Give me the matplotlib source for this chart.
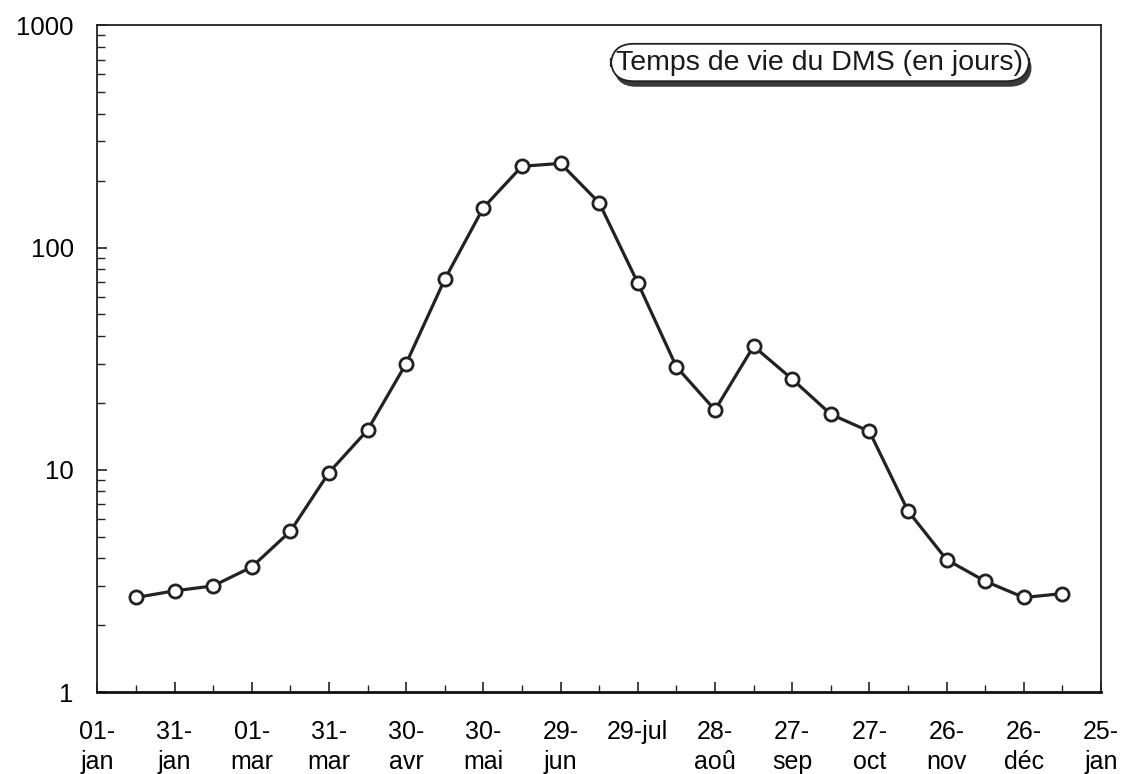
import matplotlib
matplotlib.use('Agg')
import matplotlib.pyplot as plt
import matplotlib.patheffects as pe
from matplotlib.ticker import LogLocator, NullFormatter, MultipleLocator

plt.rcParams['font.family'] = ['Liberation Sans', 'DejaVu Sans']

# Jours depuis le 1er janvier (année bissextile) et temps de vie du DMS
jours = [15, 30, 45, 60, 75, 90, 105, 120, 135, 150, 165, 180, 195,
         210, 225, 240, 255, 270, 285, 300, 315, 330, 345, 360, 375]
temps_vie = [2.67, 2.86, 3.01, 3.66, 5.3, 9.73, 15.1, 30.1, 72, 151, 232, 239, 159,
             69.4, 29.1, 18.6, 36, 25.6, 17.8, 14.9, 6.54, 3.95, 3.16, 2.67, 2.78]

jours_graduation = [0, 30, 60, 90, 120, 150, 180, 210, 240, 270, 300, 330, 360, 390]
etiquettes = ['01-\njan', '31-\njan', '01-\nmar', '31-\nmar', '30-\navr', '30-\nmai',
              '29-\njun', '29-jul\n', '28-\naoû', '27-\nsep', '27-\noct', '26-\nnov',
              '26-\ndéc', '25-\njan']
valeurs_y = [1, 10, 100, 1000]

fig = plt.figure(figsize=(11.25, 7.74), dpi=100)
ax = fig.add_axes([0.0865, 0.1055, 0.8922, 0.862])

ax.plot(jours, temps_vie, color='#222222', lw=2.3, marker='o', ms=9.5,
        mfc='white', mec='#222222', mew=2.0, solid_joinstyle='round')

ax.set_yscale('log')
ax.set_ylim(1, 1000)
ax.set_xlim(0, 390)

ax.set_yticks(valeurs_y)
ax.set_yticklabels([str(v) for v in valeurs_y])
ax.yaxis.set_minor_locator(LogLocator(base=10, subs=range(2, 10)))
ax.yaxis.set_minor_formatter(NullFormatter())

ax.set_xticks(jours_graduation)
ax.set_xticklabels(etiquettes, linespacing=1.3)
ax.xaxis.set_minor_locator(MultipleLocator(15))

ax.tick_params(axis='both', which='both', direction='in', color='#222222')
ax.tick_params(axis='y', which='major', length=7, width=1.2, labelsize=18.5, pad=17)
ax.tick_params(axis='y', which='minor', length=6, width=1.0)
ax.tick_params(axis='x', which='major', length=7, width=1.2, labelsize=18, pad=20)
ax.tick_params(axis='x', which='minor', length=5, width=1.0)

for cote in ['top', 'right', 'left']:
    ax.spines[cote].set_linewidth(1.3)
    ax.spines[cote].set_color('#222222')
ax.spines['bottom'].set_linewidth(2.0)
ax.spines['bottom'].set_color('#111111')

titre = ax.text(0.72, 0.944, 'Temps de vie du DMS (en jours)', transform=ax.transAxes,
                ha='center', va='center', fontsize=20.5, color='#1a1a1a',
                bbox=dict(boxstyle='round,pad=0.2,rounding_size=0.8',
                          fc='white', ec='#222222', lw=1.3))
titre.get_bbox_patch().set_path_effects([
    pe.withSimplePatchShadow(offset=(2.0, -4.0), shadow_rgbFace='#3a3a3a', alpha=1.0)
])

fig.savefig('out.png', dpi=100)
